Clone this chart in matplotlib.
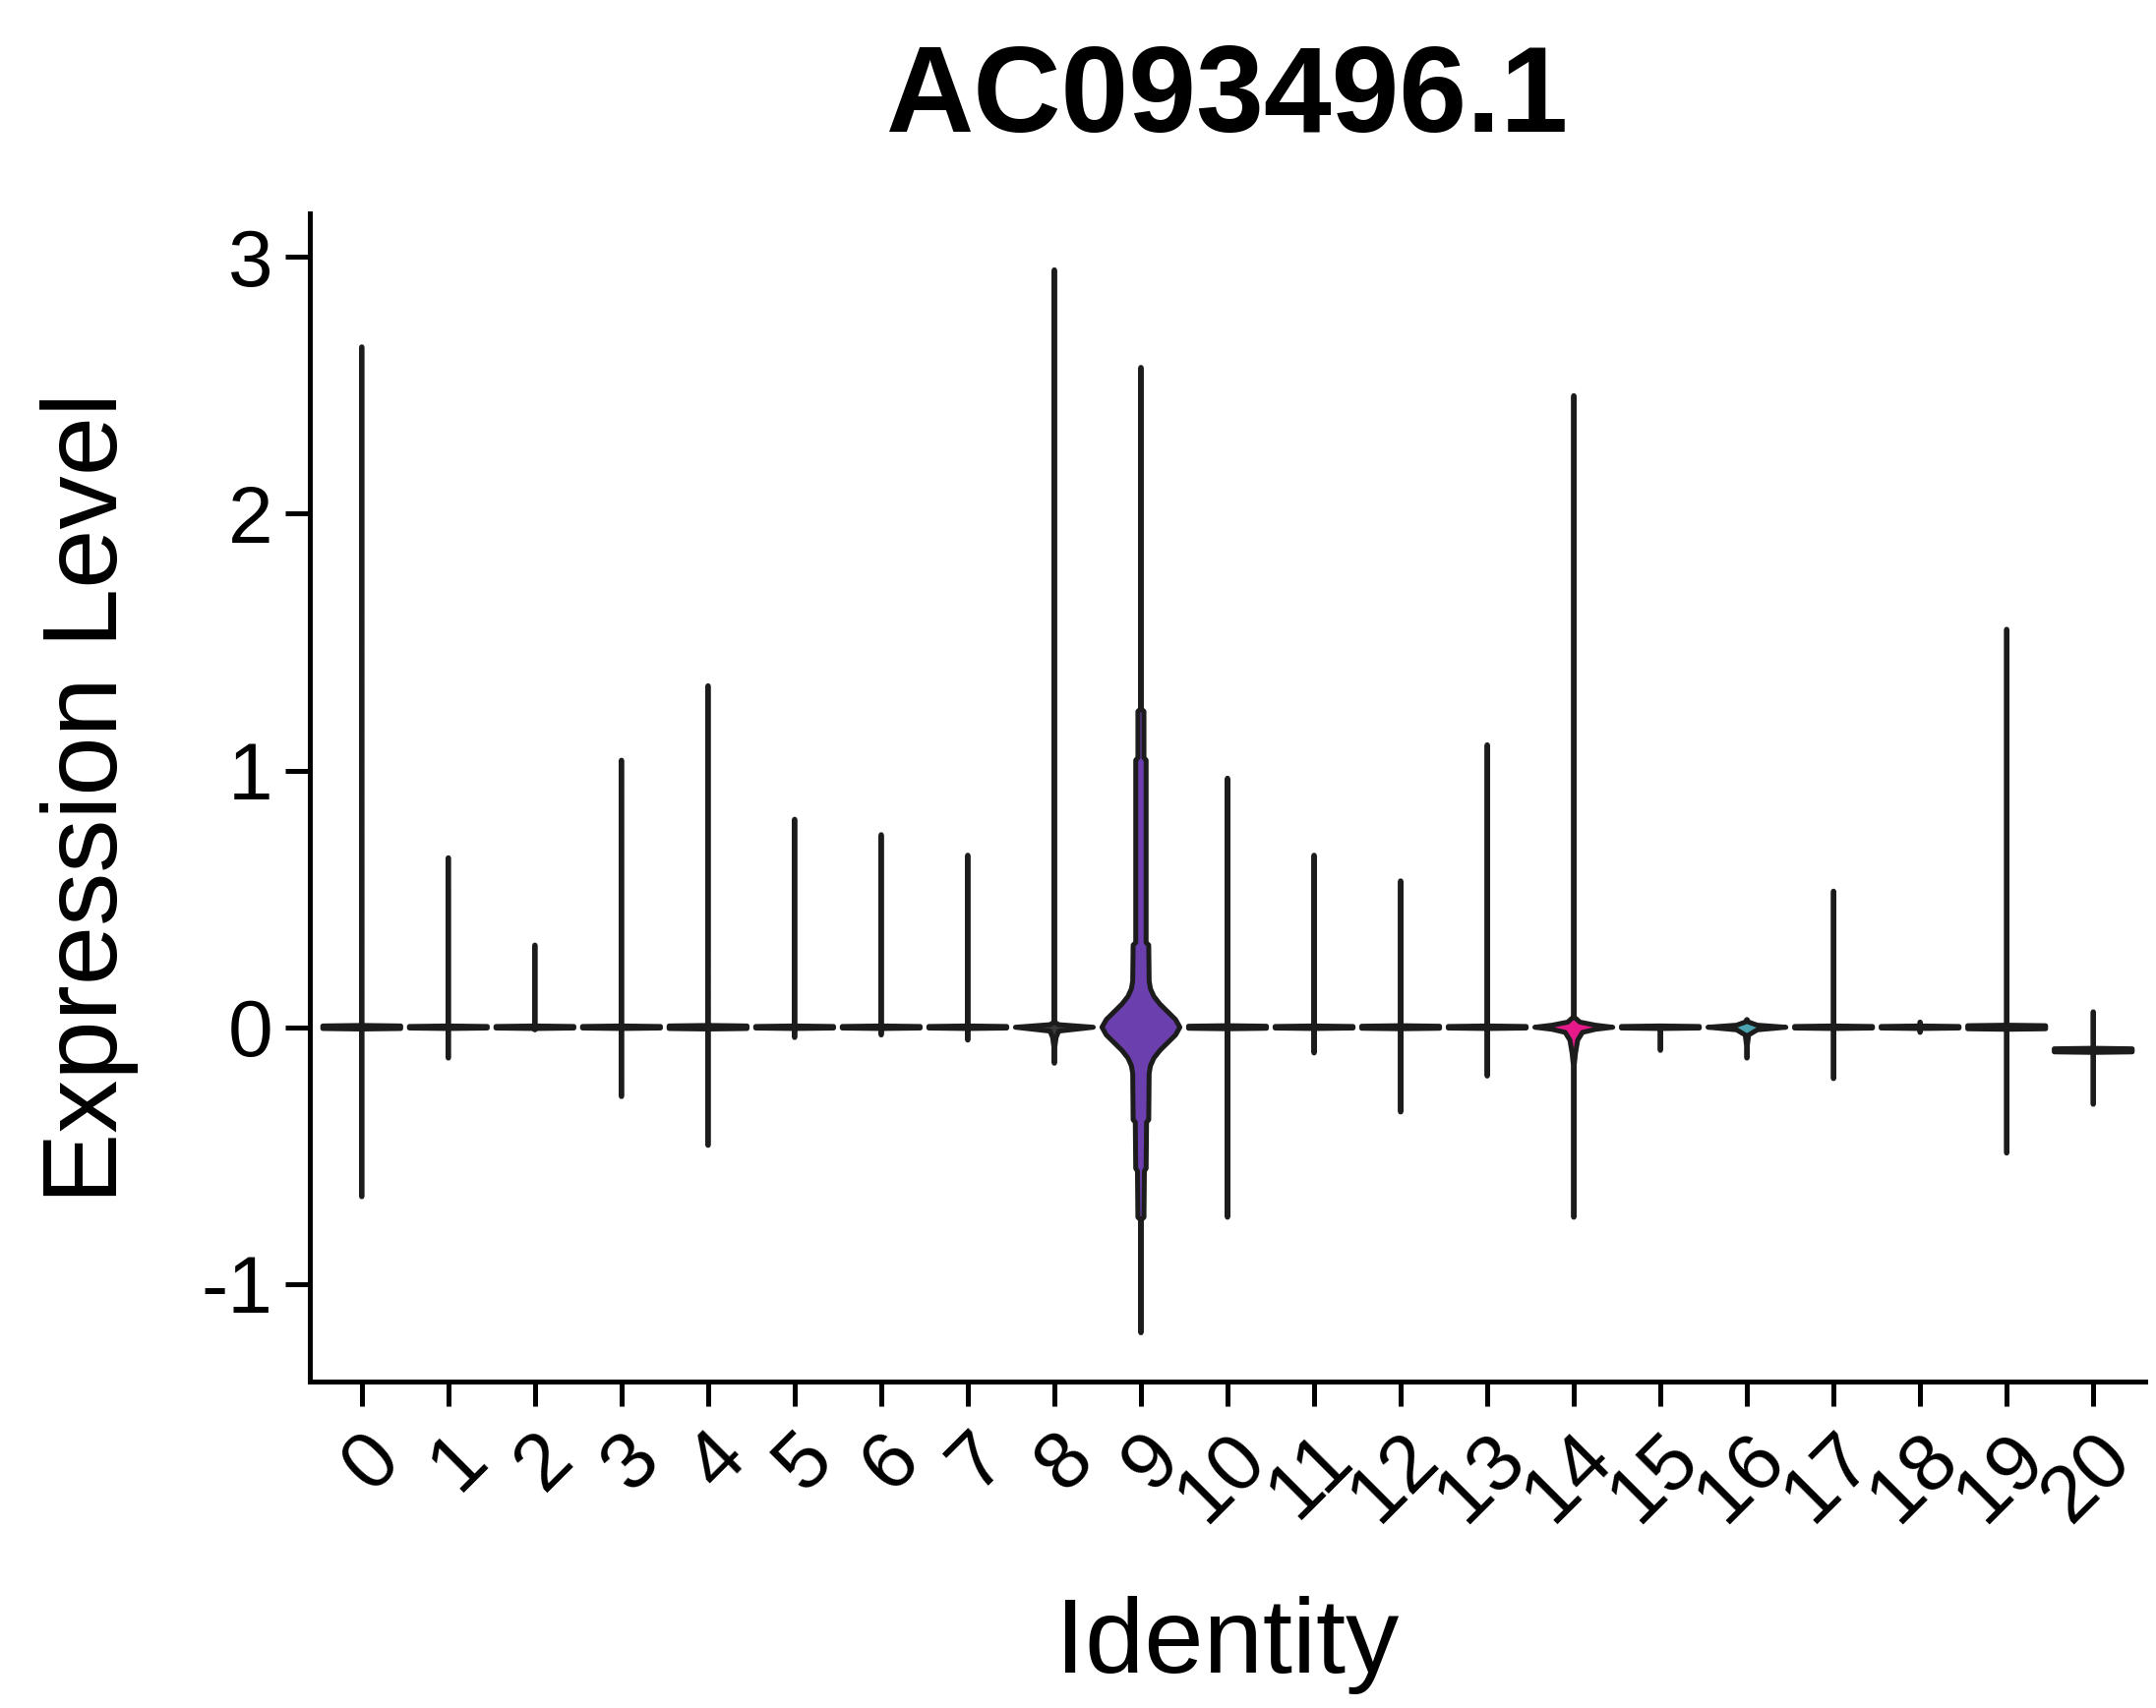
import numpy as np
import matplotlib
matplotlib.use("Agg")
import matplotlib.pyplot as plt

plt.rcParams['font.family'] = ['Liberation Sans', 'DejaVu Sans']
plt.rcParams['axes.unicode_minus'] = False

# ---------------- data ----------------
title = "AC093496.1"
clusters = list(range(21))
tick_labels = [str(c) for c in clusters]

expr_max = [2.65, 0.66, 0.32, 1.04, 1.33, 0.81, 0.75, 0.67, 2.95, 2.57, 0.97,
            0.67, 0.57, 1.10, 2.46, 0.00, 0.03, 0.53, 0.02, 1.55, 0.06]
expr_min = [-0.66, -0.12, -0.01, -0.27, -0.46, -0.04, -0.03, -0.05, -0.14, -1.19, -0.74,
            -0.10, -0.33, -0.19, -0.74, -0.09, -0.12, -0.20, -0.02, -0.49, -0.30]
expr_mode = [0.0] * 20 + [-0.09]
mode_band = [0.005, 0.003, 0.003, 0.003, 0.005, 0.003, 0.003, 0.003, 0.004, 0.003, 0.004,
             0.003, 0.004, 0.003, 0.005, 0.003, 0.005, 0.003, 0.003, 0.006, 0.006]

fill_colors = ['#F8766D', '#E58700', '#C99800', '#A3A500', '#6BB100', '#00BA38', '#00BF7D',
               '#00C0AF', '#3a3a3a', '#6B3FAE', '#00B0F6', '#619CFF', '#B983FF', '#E76BF3',
               '#E6198A', '#FF67A4', '#4CA3B0', '#D89000', '#7CAE00', '#00A9FF', '#FF62BC']

# density-width profiles (y value, half width)
c8_y = [-0.14, -0.08, -0.04, -0.015, 0.0, 0.01, 0.02, 2.95]
c8_w = [0.002, 0.004, 0.02, 0.05, 0.45, 0.05, 0.004, 0.002]

c9_y = [-1.19, -0.75, -0.74, -0.56, -0.55, -0.37, -0.36, -0.18, -0.15, -0.12, -0.09, -0.06,
        -0.03, 0.0, 0.03, 0.06, 0.09, 0.12, 0.15, 0.18, 0.32, 0.33, 1.04, 1.05, 1.23, 1.24, 2.57]
c9_w = [0.002, 0.004, 0.035, 0.04, 0.06, 0.065, 0.09, 0.095, 0.11, 0.15, 0.22, 0.31,
        0.40, 0.45, 0.40, 0.31, 0.22, 0.15, 0.11, 0.095, 0.09, 0.06, 0.06, 0.035, 0.035, 0.004, 0.002]

c14_y = [-0.74, -0.15, -0.10, -0.05, -0.02, -0.008, 0.0, 0.008, 0.02, 0.04, 2.46]
c14_w = [0.002, 0.004, 0.02, 0.045, 0.10, 0.25, 0.45, 0.25, 0.07, 0.004, 0.002]

c16_y = [-0.12, -0.07, -0.03, -0.01, 0.0, 0.008, 0.02, 0.03]
c16_w = [0.002, 0.005, 0.02, 0.12, 0.45, 0.12, 0.02, 0.002]

profiles = {8: (c8_y, c8_w), 9: (c9_y, c9_w), 14: (c14_y, c14_w), 16: (c16_y, c16_w)}

# ---------------- figure ----------------
fig = plt.figure(figsize=(21.92, 17.37), dpi=100)
ax = fig.add_axes([315 / 2192, 1 - 1405 / 1737, (2181 - 315) / 2192, (1405 - 217) / 1737])

LW = 3.6
for i in clusters:
    if i in profiles:
        ys, hw = profiles[i]
        ys = np.asarray(ys, float)
        hw = np.asarray(hw, float)
    else:
        m = expr_mode[i]
        b = mode_band[i]
        ys = np.array([expr_min[i], m - b - 0.002, m - b, m + b, m + b + 0.002, expr_max[i]])
        hw = np.array([0.002, 0.003, 0.45, 0.45, 0.003, 0.002])
        if expr_max[i] <= m + b + 0.002:
            ys = ys[:-1]; hw = hw[:-1]
        if expr_min[i] >= m - b - 0.002:
            ys = ys[1:]; hw = hw[1:]
    xs = np.concatenate([i + hw, (i - hw)[::-1]])
    yy = np.concatenate([ys, ys[::-1]])
    ax.fill(xs, yy, facecolor=fill_colors[i], edgecolor='#1c1c1c', lw=LW,
            joinstyle='round', zorder=3)

ax.set_xlim(-0.6, 20.6)
ax.set_ylim(-1.38, 3.17)
ax.set_yticks([-1, 0, 1, 2, 3])
ax.set_yticklabels(['-1', '0', '1', '2', '3'])
ax.set_xticks(clusters)
ax.set_xticklabels(tick_labels, rotation=45, ha='right', va='top', rotation_mode='anchor')

for s in ['top', 'right']:
    ax.spines[s].set_visible(False)
for s in ['left', 'bottom']:
    ax.spines[s].set_linewidth(LW)
    ax.spines[s].set_color('black')

ax.tick_params(axis='both', length=18, width=LW, color='black', labelsize=59, labelcolor='black')
ax.tick_params(axis='y', pad=9)
ax.tick_params(axis='x', pad=10)

ax.set_ylabel('Expression Level', fontsize=78)
ax.yaxis.set_label_coords((91 - 315) / 1866, 0.5)
ax.set_xlabel('Identity', fontsize=78)
ax.xaxis.set_label_coords(0.5, (1405 - 1673) / 1188)
ax.xaxis.label.set_va('center')
ax.yaxis.label.set_va('center')

fig.text(1248 / 2192, 1 - 102 / 1737, title, fontsize=89, fontweight='bold',
         ha='center', va='center')

fig.savefig('out.png', dpi=100)
